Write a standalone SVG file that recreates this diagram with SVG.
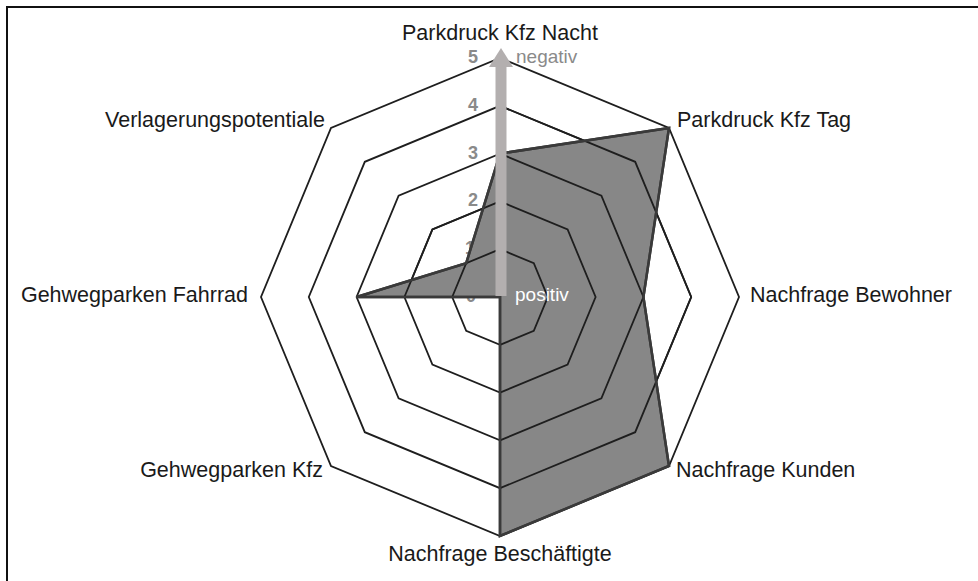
<svg xmlns="http://www.w3.org/2000/svg" width="978" height="581" viewBox="0 0 978 581">
<style>
.ring{fill:none;stroke:#1e1e1e;stroke-width:1.8;stroke-linejoin:miter}
.lbl{font-family:"Liberation Sans",Arial,sans-serif;font-size:21.5px;fill:#1a1a1a}
.num{font-family:"Liberation Sans",Arial,sans-serif;font-size:18px;font-weight:bold;fill:#8a8a8a;text-anchor:middle}
.gl{font-family:"Liberation Sans",Arial,sans-serif;font-size:19px}
</style>
<rect width="978" height="581" fill="#ffffff"/>
<g id="frame">
<line x1="6" y1="7" x2="978" y2="7" stroke="#111" stroke-width="2"/>
<line x1="7" y1="6" x2="7" y2="581" stroke="#111" stroke-width="2"/>
</g>
<g id="grid">
<polygon class="ring" points="500,249.2 533.8,263.2 547.8,297 533.8,330.8 500,344.8 466.2,330.8 452.2,297 466.2,263.2"/>
<polygon class="ring" points="500,201.4 567.6,229.4 595.6,297 567.6,364.6 500,392.6 432.4,364.6 404.4,297 432.4,229.4"/>
<polygon class="ring" points="500,153.6 601.4,195.6 643.4,297 601.4,398.4 500,440.4 398.6,398.4 356.6,297 398.6,195.6"/>
<polygon class="ring" points="500,105.8 635.2,161.8 691.2,297 635.2,432.2 500,488.2 364.8,432.2 308.8,297 364.8,161.8"/>
<polygon class="ring" points="500,58 669,128 739,297 669,466 500,536 331,466 261,297 331,128"/>
</g>
<g id="scale">
<text class="num" x="473" y="63">5</text>
<text class="num" x="473" y="111">4</text>
<text class="num" x="473" y="159">3</text>
<text class="num" x="473" y="206">2</text>
<text class="num" x="470" y="254">1</text>
<text class="num" x="471" y="302">0</text>
</g>
<g id="data">
<polygon points="500,153.6 669,128 643.4,297 669,466 500,536 500,297 356.6,297 466.2,263.2" fill="#878787" stroke="#3a3a3a" stroke-width="2.5" stroke-linejoin="miter"/>
<polyline points="500,153.6 601.4,195.6 643.4,297 601.4,398.4 500,440.4" fill="none" stroke="#1e1e1e" stroke-width="1.8"/>
<polyline points="500,105.8 635.2,161.8 691.2,297 635.2,432.2 500,488.2" fill="none" stroke="#1e1e1e" stroke-width="1.8"/>
<polyline points="500,201.4 567.6,229.4 595.6,297 567.6,364.6 500,392.6" fill="none" stroke="#1e1e1e" stroke-width="1.8"/>
<polyline points="500,249.2 533.8,263.2 547.8,297 533.8,330.8 500,344.8" fill="none" stroke="#1e1e1e" stroke-width="1.8"/>
<polyline points="404.4,297 432.4,229.4 500,201.4" fill="none" stroke="#1e1e1e" stroke-width="1.8"/>
<polyline points="452.2,297 466.2,263.2 500,249.2" fill="none" stroke="#1e1e1e" stroke-width="1.8"/>
<polyline points="500,153.6 669,128 643.4,297 669,466 500,536 500,297 356.6,297 466.2,263.2 500,153.6" fill="none" stroke="#3a3a3a" stroke-width="2.5"/>
</g>
<g id="arrow">
<rect x="495.5" y="64" width="11" height="232" fill="#b3afaf"/>
<polygon points="501,48 489,67 513,67" fill="#b3afaf"/>
<text class="gl" x="516" y="63" fill="#8a8a8a">negativ</text>
<text class="gl" x="515" y="301" fill="#ffffff">positiv</text>
</g>
<g id="labels">
<text class="lbl" x="500" y="40" text-anchor="middle">Parkdruck Kfz Nacht</text>
<text class="lbl" x="677" y="127">Parkdruck Kfz Tag</text>
<text class="lbl" x="750" y="302">Nachfrage Bewohner</text>
<text class="lbl" x="676" y="477">Nachfrage Kunden</text>
<text class="lbl" x="500" y="561" text-anchor="middle">Nachfrage Beschäftigte</text>
<text class="lbl" x="323" y="477" text-anchor="end">Gehwegparken Kfz</text>
<text class="lbl" x="248" y="302" text-anchor="end">Gehwegparken Fahrrad</text>
<text class="lbl" x="325" y="127" text-anchor="end">Verlagerungspotentiale</text>
</g>
</svg>
